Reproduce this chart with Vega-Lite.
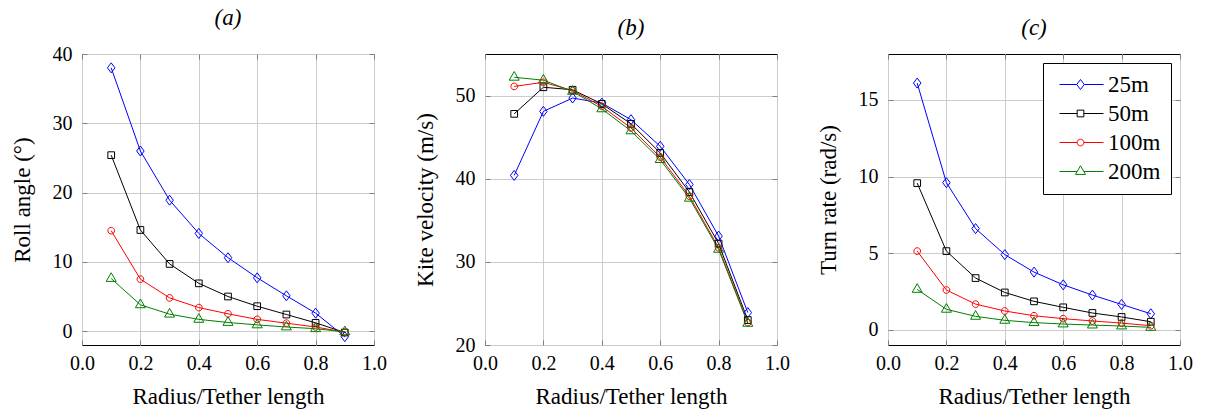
{
  "$schema": "https://vega.github.io/schema/vega-lite/v6.json",
  "padding": {"left": 10, "top": 6, "right": 0, "bottom": 0},
  "autosize": {"type": "pad"},
  "spacing": 111,
  "bounds": "flush",
  "datasets": {
    "kite": [
      {"r": 0.1, "series": "25m", "roll": 38.0, "vel": 40.4, "turn": 16.1},
      {"r": 0.2, "series": "25m", "roll": 26.0, "vel": 48.1, "turn": 9.6},
      {"r": 0.3, "series": "25m", "roll": 18.9, "vel": 49.7, "turn": 6.6},
      {"r": 0.4, "series": "25m", "roll": 14.1, "vel": 49.1, "turn": 4.9},
      {"r": 0.5, "series": "25m", "roll": 10.6, "vel": 47.1, "turn": 3.76},
      {"r": 0.6, "series": "25m", "roll": 7.7, "vel": 43.9, "turn": 2.93},
      {"r": 0.7, "series": "25m", "roll": 5.1, "vel": 39.3, "turn": 2.26},
      {"r": 0.8, "series": "25m", "roll": 2.6, "vel": 33.1, "turn": 1.65},
      {"r": 0.9, "series": "25m", "roll": -0.8, "vel": 23.9, "turn": 1.04},
      {"r": 0.1, "series": "50m", "roll": 25.4, "vel": 47.8, "turn": 9.57},
      {"r": 0.2, "series": "50m", "roll": 14.6, "vel": 51.0, "turn": 5.13},
      {"r": 0.3, "series": "50m", "roll": 9.7, "vel": 50.7, "turn": 3.37},
      {"r": 0.4, "series": "50m", "roll": 6.9, "vel": 49.0, "turn": 2.43},
      {"r": 0.5, "series": "50m", "roll": 5.0, "vel": 46.6, "turn": 1.85},
      {"r": 0.6, "series": "50m", "roll": 3.6, "vel": 43.1, "turn": 1.46},
      {"r": 0.7, "series": "50m", "roll": 2.4, "vel": 38.4, "turn": 1.09},
      {"r": 0.8, "series": "50m", "roll": 1.2, "vel": 32.2, "turn": 0.83},
      {"r": 0.9, "series": "50m", "roll": -0.2, "vel": 23.0, "turn": 0.52},
      {"r": 0.1, "series": "100m", "roll": 14.5, "vel": 51.1, "turn": 5.13},
      {"r": 0.2, "series": "100m", "roll": 7.5, "vel": 51.6, "turn": 2.59},
      {"r": 0.3, "series": "100m", "roll": 4.8, "vel": 50.6, "turn": 1.67},
      {"r": 0.4, "series": "100m", "roll": 3.4, "vel": 48.7, "turn": 1.22},
      {"r": 0.5, "series": "100m", "roll": 2.5, "vel": 46.1, "turn": 0.91},
      {"r": 0.6, "series": "100m", "roll": 1.7, "vel": 42.6, "turn": 0.72},
      {"r": 0.7, "series": "100m", "roll": 1.15, "vel": 37.9, "turn": 0.57},
      {"r": 0.8, "series": "100m", "roll": 0.6, "vel": 31.7, "turn": 0.43},
      {"r": 0.9, "series": "100m", "roll": -0.15, "vel": 22.7, "turn": 0.26},
      {"r": 0.1, "series": "200m", "roll": 7.6, "vel": 52.2, "turn": 2.63},
      {"r": 0.2, "series": "200m", "roll": 3.8, "vel": 51.85, "turn": 1.33},
      {"r": 0.3, "series": "200m", "roll": 2.45, "vel": 50.5, "turn": 0.87},
      {"r": 0.4, "series": "200m", "roll": 1.7, "vel": 48.4, "turn": 0.61},
      {"r": 0.5, "series": "200m", "roll": 1.25, "vel": 45.75, "turn": 0.46},
      {"r": 0.6, "series": "200m", "roll": 0.9, "vel": 42.3, "turn": 0.37},
      {"r": 0.7, "series": "200m", "roll": 0.6, "vel": 37.65, "turn": 0.3},
      {"r": 0.8, "series": "200m", "roll": 0.35, "vel": 31.5, "turn": 0.24},
      {"r": 0.9, "series": "200m", "roll": -0.1, "vel": 22.6, "turn": 0.15}
    ]
  },
  "resolve": {"scale": {"color": "independent", "shape": "independent"}, "legend": {"color": "independent", "shape": "independent"}},
  "hconcat": [
    {
      "width": 292, "height": 291,
      "title": {"text": "(a)"},
      "data": {"name": "kite"},
      "resolve": {"axis": {"x": "independent", "y": "independent"}},
      "layer": [
        {
          "mark": {"type": "line", "strokeWidth": 1},
          "encoding": {
            "x": {"field": "r", "type": "quantitative", "scale": {"domain": [0, 1]}, "axis": {"title": "Radius/Tether length", "values": [0, 0.2, 0.4, 0.6, 0.8, 1.0], "format": ".1f"}},
            "y": {"field": "roll", "type": "quantitative", "scale": {"domain": [-2, 40], "nice": false, "zero": false}, "axis": {"title": "Roll angle (°)", "values": [0, 10, 20, 30, 40]}},
            "color": {"field": "series", "type": "nominal", "scale": {"domain": ["25m", "50m", "100m", "200m"], "range": ["#0000ff", "#000000", "#ff0000", "#008000"]}, "legend": null},
            "detail": {"field": "series"}
          }
        },
        {
          "mark": {"type": "point", "filled": false, "size": 100, "strokeWidth": 1, "opacity": 1},
          "encoding": {
            "x": {"field": "r", "type": "quantitative", "axis": {"orient": "top", "labels": false, "grid": false, "title": null, "values": [0, 0.2, 0.4, 0.6, 0.8, 1.0]}},
            "y": {"field": "roll", "type": "quantitative", "axis": {"orient": "right", "labels": false, "grid": false, "title": null, "values": [0, 10, 20, 30, 40]}},
            "color": {"field": "series", "type": "nominal", "legend": null},
            "shape": {"field": "series", "type": "nominal", "scale": {"domain": ["25m", "50m", "100m", "200m"], "range": ["M0,-1L0.75,0L0,1L-0.75,0Z", "M-0.67,-0.67L0.67,-0.67L0.67,0.67L-0.67,0.67Z", "M0.67,0A0.67,0.67,0,1,1,-0.67,0A0.67,0.67,0,1,1,0.67,0Z", "M0,-1.15L1,0.58L-1,0.58Z"]}, "legend": null}
          }
        }
      ]
    },
    {
      "width": 292, "height": 291,
      "title": {"text": "(b)"},
      "data": {"name": "kite"},
      "resolve": {"axis": {"x": "independent", "y": "independent"}},
      "layer": [
        {
          "mark": {"type": "line", "strokeWidth": 1},
          "encoding": {
            "x": {"field": "r", "type": "quantitative", "scale": {"domain": [0, 1]}, "axis": {"title": "Radius/Tether length", "values": [0, 0.2, 0.4, 0.6, 0.8, 1.0], "format": ".1f"}},
            "y": {"field": "vel", "type": "quantitative", "scale": {"domain": [20, 55], "nice": false, "zero": false}, "axis": {"title": "Kite velocity (m/s)", "values": [20, 30, 40, 50]}},
            "color": {"field": "series", "type": "nominal", "scale": {"domain": ["25m", "50m", "100m", "200m"], "range": ["#0000ff", "#000000", "#ff0000", "#008000"]}, "legend": null},
            "detail": {"field": "series"}
          }
        },
        {
          "mark": {"type": "point", "filled": false, "size": 100, "strokeWidth": 1, "opacity": 1},
          "encoding": {
            "x": {"field": "r", "type": "quantitative", "axis": {"orient": "top", "labels": false, "grid": false, "title": null, "values": [0, 0.2, 0.4, 0.6, 0.8, 1.0]}},
            "y": {"field": "vel", "type": "quantitative", "axis": {"orient": "right", "labels": false, "grid": false, "title": null, "values": [20, 30, 40, 50]}},
            "color": {"field": "series", "type": "nominal", "legend": null},
            "shape": {"field": "series", "type": "nominal", "scale": {"domain": ["25m", "50m", "100m", "200m"], "range": ["M0,-1L0.75,0L0,1L-0.75,0Z", "M-0.67,-0.67L0.67,-0.67L0.67,0.67L-0.67,0.67Z", "M0.67,0A0.67,0.67,0,1,1,-0.67,0A0.67,0.67,0,1,1,0.67,0Z", "M0,-1.15L1,0.58L-1,0.58Z"]}, "legend": null}
          }
        }
      ]
    },
    {
      "width": 292, "height": 291,
      "title": {"text": "(c)"},
      "data": {"name": "kite"},
      "resolve": {"scale": {"color": "independent", "shape": "independent"}, "legend": {"color": "independent", "shape": "independent"}, "axis": {"x": "independent", "y": "independent"}},
      "layer": [
        {
          "mark": {"type": "line", "strokeWidth": 1},
          "encoding": {
            "x": {"field": "r", "type": "quantitative", "scale": {"domain": [0, 1]}, "axis": {"title": "Radius/Tether length", "values": [0, 0.2, 0.4, 0.6, 0.8, 1.0], "format": ".1f"}},
            "y": {"field": "turn", "type": "quantitative", "scale": {"domain": [-1, 18], "nice": false, "zero": false}, "axis": {"title": "Turn rate (rad/s)", "values": [0, 5, 10, 15]}},
            "color": {"field": "series", "type": "nominal", "scale": {"domain": ["25m", "50m", "100m", "200m"], "range": ["#0000ff", "#000000", "#ff0000", "#008000"]}, "legend": null},
            "detail": {"field": "series"}
          }
        },
        {
          "mark": {"type": "point", "filled": false, "size": 100, "strokeWidth": 1, "opacity": 1},
          "encoding": {
            "x": {"field": "r", "type": "quantitative", "axis": {"orient": "top", "labels": false, "grid": false, "title": null, "values": [0, 0.2, 0.4, 0.6, 0.8, 1.0]}},
            "y": {"field": "turn", "type": "quantitative", "axis": {"orient": "right", "labels": false, "grid": false, "title": null, "values": [0, 5, 10, 15]}},
            "color": {"field": "series", "type": "nominal", "scale": {"domain": ["25m", "50m", "100m", "200m"], "range": ["#0000ff", "#000000", "#ff0000", "#008000"]}, "legend": null},
            "shape": {"field": "series", "type": "nominal", "scale": {"domain": ["25m", "50m", "100m", "200m"], "range": ["M0,-1L0.75,0L0,1L-0.75,0Z", "M-0.67,-0.67L0.67,-0.67L0.67,0.67L-0.67,0.67Z", "M0.67,0A0.67,0.67,0,1,1,-0.67,0A0.67,0.67,0,1,1,0.67,0Z", "M0,-1.15L1,0.58L-1,0.58Z"]}, "legend": null}
          }
        },
        {
          "mark": {"type": "point", "filled": false, "size": 100, "strokeWidth": 1, "opacity": 0},
          "encoding": {
            "x": {"field": "r", "type": "quantitative", "axis": null},
            "y": {"field": "turn", "type": "quantitative", "axis": null},
            "color": {"field": "series", "type": "nominal", "scale": {"domain": ["25m", "50m", "100m", "200m"], "range": ["#0000ff", "#000000", "#ff0000", "#008000"]},
              "legend": {"title": null, "orient": "top-right", "offset": 9, "padding": 10, "strokeColor": "#000000", "fillColor": "#ffffff", "cornerRadius": 0, "labelFont": "Liberation Serif", "labelFontSize": 23, "labelColor": "#000000", "symbolSize": 100, "symbolStrokeWidth": 1, "symbolOffset": 16, "labelOffset": 16, "rowPadding": 5, "symbolOpacity": 1, "symbolFillColor": "transparent"}},
            "shape": {"field": "series", "type": "nominal", "scale": {"domain": ["25m", "50m", "100m", "200m"], "range": ["M-4.2,0L-0.75,0M0.75,0L4.6,0M0,-1L0.75,0L0,1L-0.75,0Z", "M-4.2,0L-0.67,0M0.67,0L4.6,0M-0.67,-0.67L0.67,-0.67L0.67,0.67L-0.67,0.67Z", "M-4.2,0L-0.67,0M0.67,0L4.6,0M0.67,0A0.67,0.67,0,1,1,-0.67,0A0.67,0.67,0,1,1,0.67,0Z", "M-4.2,0L-0.67,0M0.67,0L4.6,0M0,-1.15L1,0.58L-1,0.58Z"]},
              "legend": {"title": null, "orient": "top-right", "offset": 9, "padding": 10, "strokeColor": "#000000", "fillColor": "#ffffff", "cornerRadius": 0, "labelFont": "Liberation Serif", "labelFontSize": 23, "labelColor": "#000000", "symbolSize": 100, "symbolStrokeWidth": 1, "symbolOffset": 16, "labelOffset": 16, "rowPadding": 5, "symbolOpacity": 1, "symbolFillColor": "transparent"}}
          }
        }
      ]
    }
  ],
  "config": {
    "font": "Liberation Serif",
    "view": {"stroke": "#000000", "strokeWidth": 1},
    "style": {
      "guide-label": {"font": "Liberation Serif"},
      "guide-title": {"font": "Liberation Serif"}
    },
    "axis": {
      "labelFont": "Liberation Serif", "labelFontSize": 20, "labelColor": "#000000",
      "titleFont": "Liberation Serif", "titleFontSize": 23, "titleFontWeight": "normal", "titleColor": "#000000",
      "gridColor": "#cccccc", "gridWidth": 1, "gridOpacity": 1,
      "tickColor": "#808080", "tickSize": -5, "tickWidth": 1,
      "domain": false, "labelFlush": false, "labelOverlap": false
    },
    "legend": {"labelFont": "Liberation Serif"},
    "axisX": {"labelPadding": 13, "titlePadding": 12},
    "axisY": {"labelPadding": 15, "titlePadding": 18},
    "title": {"font": "Liberation Serif", "fontSize": 23, "fontStyle": "italic", "fontWeight": "normal", "color": "#000000", "offset": 14, "anchor": "middle"}
  }
}
